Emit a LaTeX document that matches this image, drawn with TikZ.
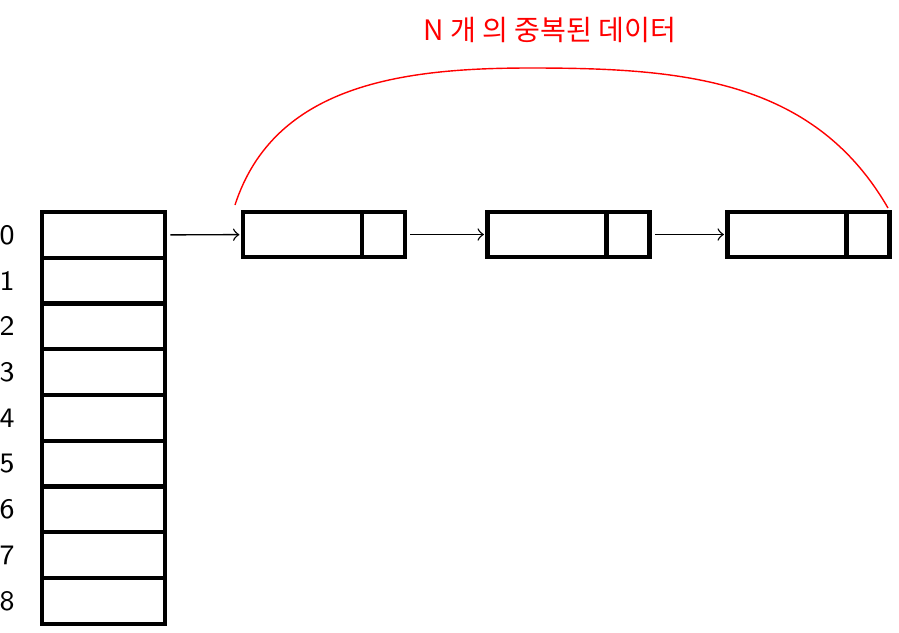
\documentclass[tikz,border=0pt]{standalone}
\usepackage{fontspec}
\newfontfamily\kofont{Noto Sans CJK KR}
\usetikzlibrary{positioning,arrows}
\tikzstyle{cell} = [rectangle, minimum width=1.23cm, minimum height=0.457cm, draw=black, very thick, inner sep=0pt, outer sep=0pt]
\tikzstyle{item} = [rectangle, minimum width=1.19cm, minimum height=0.45cm, draw=black, very thick, inner sep=0pt, outer sep=0pt]
\tikzstyle{nxt} = [rectangle, minimum width=0.43cm, minimum height=0.45cm, draw=black, very thick, inner sep=0pt, outer sep=0pt]
\tikzstyle{idx} = [font=\footnotesize\sffamily]
\tikzstyle{arrow} = [->,>=to, thin, shorten <=1.5pt, shorten >=1pt]

\begin{document}
\begin{tikzpicture}[x=0.01cm, y=-0.01cm, node distance=0.457cm]
\useasboundingbox (0,0) rectangle (899,633);
% bucket array
\node (c0)[cell] at (103.5,235) {};
\node (c1)[cell, below of=c0] {};
\node (c2)[cell, below of=c1] {};
\node (c3)[cell, below of=c2] {};
\node (c4)[cell, below of=c3] {};
\node (c5)[cell, below of=c4] {};
\node (c6)[cell, below of=c5] {};
\node (c7)[cell, below of=c6] {};
\node (c8)[cell, below of=c7] {};
\node [idx, left=0.15cm of c0] {0};
\node [idx, left=0.15cm of c1] {1};
\node [idx, left=0.15cm of c2] {2};
\node [idx, left=0.15cm of c3] {3};
\node [idx, left=0.15cm of c4] {4};
\node [idx, left=0.15cm of c5] {5};
\node [idx, left=0.15cm of c6] {6};
\node [idx, left=0.15cm of c7] {7};
\node [idx, left=0.15cm of c8] {8};

% chained entries
\node (e1)[item] at (302.5,234.5) {};
\node (p1)[nxt, right=0pt of e1] {};
\node (e2)[item] at (547,234.5) {};
\node (p2)[nxt, right=0pt of e2] {};
\node (e3)[item] at (787,234.5) {};
\node (p3)[nxt, right=0pt of e3] {};
\draw [arrow](c0) -- (e1);
\draw [arrow](p1) -- (e2);
\draw [arrow](p2) -- (e3);

% duplicates brace
\coordinate (bl) at (235,205);
\coordinate (top) at (530,68);
\coordinate (br) at (888,208);
\draw [red] (bl) to[out=72,in=180] (top) to[out=0,in=120] (br);
\node (dup)[red, font=\kofont\footnotesize] at (550,30) {N 개 의 중복된 데이터};
\end{tikzpicture}
\end{document}
